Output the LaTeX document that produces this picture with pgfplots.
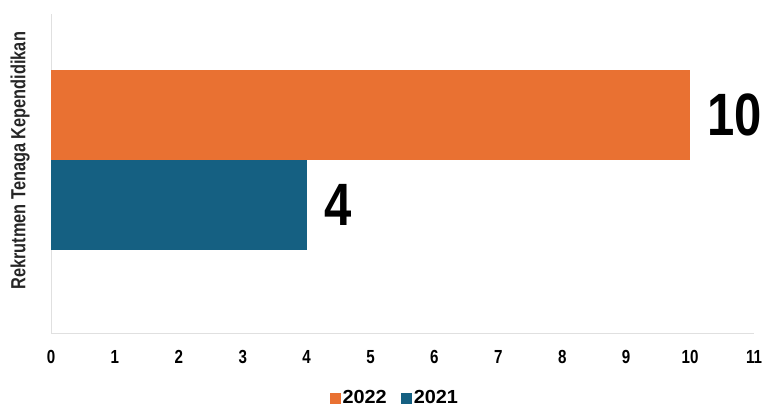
\documentclass[border=0pt]{standalone}
\usepackage{fontspec}
\setmainfont{Liberation Sans}
\newfontfamily\narrow{Liberation Sans}[FakeStretch=0.8]
\newfontfamily\widebold{Liberation Sans}[FakeStretch=0.82]
\newfontfamily\legfont{Liberation Sans}[FakeStretch=1.05]
\usepackage{pgfplots}
\pgfplotsset{compat=1.18}
\definecolor{orng}{HTML}{E97132}
\definecolor{tealc}{HTML}{156082}
\begin{document}
\begin{tikzpicture}
\begin{axis}[
  scale only axis, width=703bp, height=319bp,
  xmin=0, xmax=11, ymin=-1.922, ymax=1.622,
  xtick={0,1,...,11}, ytick=\empty,
  axis x line*=bottom, axis y line*=left,
  axis line style={-, draw=black!12, line width=0.8pt},
  major tick length=0pt,
  /pgf/number format/assume math mode=true,
  xticklabel style={font=\narrow\bfseries\fontsize{19}{19}\selectfont, anchor=center, yshift=-24bp},
  ylabel={Rekrutmen Tenaga Kependidikan},
  ylabel style={font=\narrow\bfseries\fontsize{20.5}{20.5}\selectfont, text=black!85, at={(axis description cs:-0.044,0.54)}, anchor=center},
  legend style={at={(0.489,-0.204)}, anchor=center, draw=none, fill=none, legend columns=2,
    font=\legfont\bfseries\fontsize{19}{19}\selectfont,
    /tikz/every even column/.append style={column sep=12bp}},
  clip=false,
]
\addplot[xbar, bar width=1, bar shift=0, fill=orng, draw=none,
  legend image code/.code={\fill[orng] (0bp,-5.5bp) rectangle (11bp,5.5bp);},
  point meta=x, nodes near coords,
  nodes near coords style={font=\widebold\bfseries\fontsize{60}{60}\selectfont, black, anchor=west, xshift=14bp}]
  coordinates {(10,0.5)};
\addlegendentry{2022}
\addplot[xbar, bar width=1, bar shift=0, fill=tealc, draw=none,
  legend image code/.code={\fill[tealc] (0bp,-5.5bp) rectangle (11bp,5.5bp);},
  point meta=x, nodes near coords,
  nodes near coords style={font=\widebold\bfseries\fontsize{60}{60}\selectfont, black, anchor=west, xshift=14bp}]
  coordinates {(4,-0.5)};
\addlegendentry{2021}
\end{axis}
\pgfresetboundingbox
\path ([shift={(-51bp,-76bp)}]current axis.south west) rectangle ([shift={(13bp,14bp)}]current axis.north east);
\end{tikzpicture}
\end{document}
